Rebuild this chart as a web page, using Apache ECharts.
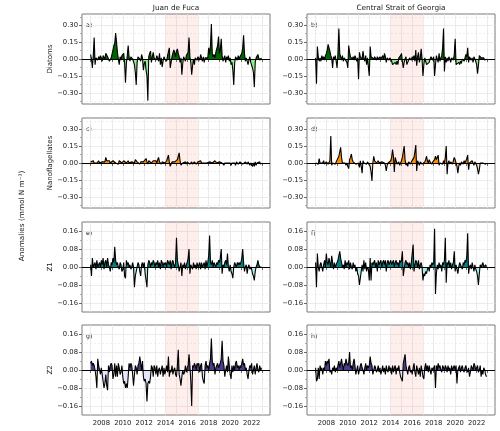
<!DOCTYPE html>
<html>
<head>
<meta charset="utf-8">
<script src="https://cdn.jsdelivr.net/npm/echarts@6/dist/echarts.min.js"></script>
<style>
  html, body { margin: 0; padding: 0; background: #fff; }
  #chart { width: 500px; height: 431px; }
</style>
</head>
<body>
<div id="chart"></div>
<script>
// monthly anomalies, Jan 2007 .. Dec 2022
const startYear = 2007
const labelYears = [2008, 2010, 2012, 2014, 2016, 2018, 2020, 2022]
const tickYears = [2007, 2008, 2009, 2010, 2011, 2012, 2013, 2014, 2015, 2016, 2017, 2018, 2019, 2020, 2021, 2022, 2023]
const heatwave = [2014, 2017]
const sites = ['Juan de Fuca', 'Central Strait of Georgia']
const groups = ['Diatoms', 'Nanoflagellates', 'Z1', 'Z2']
const tags = ['a)', 'b)', 'c)', 'd)', 'e)', 'f)', 'g)', 'h)']
const phytoTicks = [-0.3, -0.15, 0, 0.15, 0.3]
const phytoMinor = [-0.375, -0.225, -0.075, 0.075, 0.225, 0.375]
const zooTicks = [-0.16, -0.08, 0, 0.08, 0.16]
const zooMinor = [-0.12, -0.04, 0.04, 0.12]

const jdfDiatoms = [
  0.04, 0.0, -0.08, 0.03, 0.19, -0.05, 0.01, 0.02, -0.01, 0.02, 0.0, 0.03,
  0.01, -0.02, 0.03, 0.02, 0.0, 0.05, 0.06, 0.02, 0.0, -0.02, -0.03, 0.01,
  0.01, 0.08, 0.12, 0.14, 0.23, 0.15, 0.06, 0.0, -0.05, 0.02, -0.01, 0.03,
  0.02, 0.05, -0.03, -0.21, -0.04, 0.03, 0.12, 0.02, -0.02, 0.02, 0.01, 0.0,
  0.01, -0.05, -0.12, -0.23, -0.03, 0.02, 0.03, 0.0, -0.02, 0.04, 0.01, -0.1,
  -0.04, -0.02, -0.1, -0.15, -0.37, 0.02, 0.05, 0.07, -0.03, 0.02, 0.06, 0.01,
  0.02, -0.01, 0.03, 0.01, -0.02, 0.05, -0.05, 0.01, -0.07, -0.02, 0.02, 0.0,
  0.01, -0.02, 0.03, 0.02, 0.1, -0.08, -0.03, 0.02, 0.03, 0.08, 0.06, 0.02,
  0.07, 0.09, 0.05, 0.02, -0.03, 0.01, -0.14, -0.04, 0.02, 0.01, -0.02, 0.03,
  0.03, 0.06, 0.19, 0.02, -0.03, -0.14, -0.06, 0.0, -0.05, 0.01, 0.02, -0.01,
  0.02, 0.03, -0.01, 0.04, 0.01, -0.02, 0.02, -0.03, 0.01, 0.0, 0.02, 0.01,
  0.1, 0.04, 0.12, 0.31, 0.05, 0.02, 0.04, 0.01, 0.06, 0.05, 0.12, 0.2,
  0.05, 0.08, 0.18, 0.03, -0.02, 0.01, 0.03, -0.03, 0.02, 0.0, 0.03, -0.02,
  0.01, -0.05, -0.03, -0.1, -0.23, -0.04, 0.02, 0.01, -0.01, 0.03, 0.0, 0.02,
  0.02, 0.05, 0.1, 0.21, 0.05, -0.02, 0.01, 0.02, -0.05, -0.01, 0.02, -0.03,
  -0.02, -0.08, -0.12, -0.25, -0.03, 0.01, 0.02, 0.04, 0.01, -0.01, 0.0, 0.01
]
const sogDiatoms = [
  0.01, -0.22, 0.11, 0.02, -0.02, 0.01, -0.02, 0.03, 0.0, 0.02, -0.01, 0.03,
  0.05, 0.08, 0.13, 0.14, 0.07, 0.03, 0.01, -0.08, 0.02, 0.0, 0.03, -0.02,
  -0.08, 0.05, 0.27, 0.05, 0.02, -0.01, 0.03, -0.02, 0.01, 0.02, 0.0, -0.03,
  -0.08, 0.12, 0.06, 0.02, 0.03, 0.0, 0.02, -0.01, 0.03, 0.01, -0.02, 0.01,
  -0.18, 0.06, 0.02, 0.03, 0.0, 0.07, 0.01, -0.02, 0.03, -0.05, 0.01, 0.02,
  -0.15, 0.11, 0.02, 0.01, 0.03, 0.0, 0.02, 0.01, -0.01, 0.02, 0.0, 0.01,
  0.02, 0.0, 0.01, 0.03, 0.0, 0.05, 0.02, -0.03, 0.01, 0.02, -0.01, 0.01,
  0.0, -0.02, -0.05, -0.04, -0.06, -0.03, -0.05, -0.02, -0.05, 0.01, 0.02, 0.03,
  0.05, -0.02, -0.08, -0.03, 0.0, 0.02, -0.05, -0.04, -0.05, 0.01, 0.02, -0.01,
  0.02, 0.0, 0.03, -0.02, 0.08, -0.06, 0.02, 0.06, -0.03, 0.01, 0.09, 0.0,
  -0.15, -0.05, 0.01, -0.02, -0.05, -0.04, -0.05, -0.03, 0.0, 0.02, 0.01, -0.01,
  0.02, -0.15, -0.05, 0.03, 0.02, -0.03, 0.05, -0.02, 0.01, 0.03, 0.1, 0.27,
  -0.11, 0.02, -0.03, 0.01, -0.02, 0.02, 0.0, -0.03, 0.01, 0.02, -0.01, 0.04,
  0.18, -0.05, -0.04, -0.05, -0.03, -0.05, -0.02, -0.04, 0.0, 0.01, -0.02, 0.01,
  0.04, 0.02, 0.1, -0.03, 0.02, 0.03, -0.01, 0.01, -0.03, 0.02, 0.01, -0.02,
  -0.05, -0.13, -0.06, 0.03, 0.02, 0.01, 0.02, 0.0, 0.01, -0.01, 0.0, 0.0
]
const jdfNano = [
  0.01, 0.02, 0.01, 0.02, 0.0, 0.01, 0.01, 0.0, 0.01, 0.02, 0.0, 0.01,
  0.0, 0.01, 0.02, 0.0, 0.01, 0.05, 0.02, 0.01, 0.01, 0.02, 0.0, 0.01,
  0.01, 0.02, 0.02, 0.01, 0.0, 0.01, 0.0, -0.01, 0.02, 0.01, 0.02, 0.0,
  0.01, 0.02, 0.03, 0.01, 0.0, 0.01, 0.02, 0.0, 0.01, -0.01, 0.01, 0.0,
  0.01, 0.0, 0.03, 0.04, 0.01, 0.0, 0.02, -0.01, 0.01, 0.0, 0.02, 0.01,
  0.01, 0.02, 0.04, 0.01, -0.01, 0.02, 0.03, 0.01, 0.0, 0.01, 0.02, 0.01,
  0.01, 0.02, 0.0, 0.03, 0.05, 0.01, 0.0, -0.01, 0.01, 0.0, 0.01, 0.0,
  0.01, 0.02, 0.03, 0.07, 0.01, -0.03, -0.01, 0.01, 0.02, 0.0, 0.01, 0.01,
  0.02, 0.03, 0.06, 0.09, 0.02, -0.02, -0.01, 0.0, -0.01, 0.0, 0.01, -0.01,
  0.01, 0.0, 0.01, -0.01, 0.0, 0.01, -0.01, 0.0, 0.01, 0.0, -0.01, 0.0,
  0.01, 0.0, 0.01, 0.02, 0.0, 0.01, -0.01, 0.0, 0.01, 0.0, 0.0, -0.01,
  0.0, 0.01, 0.02, 0.01, 0.0, -0.01, 0.0, 0.02, 0.01, 0.0, -0.01, 0.0,
  0.01, 0.0, 0.02, 0.0, -0.01, -0.02, 0.0, 0.01, -0.01, 0.0, 0.01, -0.01,
  0.0, -0.02, 0.0, 0.01, -0.01, 0.0, -0.02, 0.01, 0.0, -0.01, 0.0, 0.01,
  0.0, 0.01, -0.01, 0.0, -0.02, 0.01, 0.0, -0.01, 0.01, 0.0, -0.02, 0.0,
  -0.01, -0.03, 0.0, -0.03, 0.01, -0.02, 0.0, -0.01, 0.0, 0.01, -0.01, 0.0
]
const sogNano = [
  0.0, -0.01, 0.01, -0.01, 0.04, 0.0, -0.01, 0.01, 0.0, 0.02, -0.01, 0.0,
  0.01, 0.0, -0.01, 0.0, 0.02, 0.24, -0.02, 0.0, 0.01, 0.0, -0.01, 0.01,
  0.0, 0.02, 0.06, 0.1, 0.14, 0.05, 0.0, -0.01, 0.01, 0.0, -0.02, 0.0,
  -0.03, -0.05, 0.03, 0.05, 0.08, 0.03, 0.01, 0.0, 0.01, -0.01, 0.0, -0.02,
  0.0, -0.04, 0.02, -0.03, -0.09, 0.02, 0.0, 0.01, 0.0, -0.01, 0.01, 0.0,
  0.01, -0.03, -0.08, -0.16, 0.0, 0.06, 0.02, 0.01, 0.0, -0.01, 0.02, 0.0,
  0.01, 0.0, 0.01, 0.0, 0.02, 0.0, -0.02, -0.07, -0.02, 0.0, 0.01, 0.0,
  0.02, 0.05, 0.12, 0.06, -0.08, 0.05, 0.02, -0.01, 0.0, 0.01, -0.02, 0.0,
  0.02, 0.05, 0.1, 0.15, 0.03, -0.02, 0.0, -0.03, 0.01, 0.0, -0.01, 0.01,
  0.0, 0.01, 0.05, 0.1, 0.16, -0.07, 0.02, 0.01, -0.02, 0.01, 0.0, -0.01,
  0.0, -0.02, 0.01, 0.03, 0.06, 0.02, 0.0, 0.03, 0.01, 0.0, -0.01, 0.01,
  0.02, 0.03, 0.06, 0.03, 0.05, 0.07, -0.02, 0.0, 0.01, 0.0, -0.01, 0.02,
  0.0, 0.05, 0.15, -0.1, 0.0, 0.02, -0.01, 0.01, 0.0, -0.01, 0.02, 0.05,
  0.03, 0.0, -0.03, -0.09, -0.03, 0.0, -0.02, 0.01, 0.0, -0.01, 0.02, 0.0,
  0.02, 0.04, 0.07, -0.06, 0.0, 0.01, -0.01, 0.02, 0.0, -0.02, 0.01, 0.0,
  -0.02, -0.05, -0.1, -0.06, 0.0, 0.01, -0.01, 0.0, 0.01, 0.0, -0.01, 0.0
]
const jdfZ1 = [
  0.01, -0.04, 0.04, 0.0, 0.01, 0.02, -0.01, 0.03, 0.0, 0.01, 0.02, 0.0,
  0.03, 0.01, 0.04, -0.01, 0.02, 0.03, 0.0, 0.04, 0.01, 0.0, -0.02, 0.02,
  0.01, 0.04, 0.02, 0.09, 0.03, 0.01, 0.02, 0.0, -0.01, 0.02, 0.01, -0.02,
  -0.01, 0.02, -0.04, -0.05, 0.03, 0.01, 0.02, 0.0, 0.01, -0.01, 0.0, 0.02,
  0.0, -0.09, -0.04, -0.02, 0.0, 0.02, 0.01, -0.02, -0.04, 0.01, 0.02, 0.0,
  0.02, -0.03, -0.06, -0.09, 0.01, 0.03, 0.02, 0.0, 0.02, 0.01, 0.03, 0.02,
  0.0, 0.02, 0.01, 0.03, 0.0, 0.02, -0.01, 0.03, 0.02, 0.0, 0.02, 0.01,
  0.02, 0.0, 0.03, 0.02, 0.01, 0.03, -0.01, 0.02, 0.03, 0.01, 0.0, 0.02,
  0.13, 0.03, 0.01, -0.02, 0.0, 0.02, -0.04, 0.01, 0.0, 0.02, -0.01, 0.01,
  0.02, 0.04, 0.08, -0.03, 0.01, 0.0, -0.01, 0.02, 0.0, 0.01, -0.01, 0.02,
  0.0, 0.01, 0.02, -0.01, 0.02, 0.0, 0.01, 0.02, -0.01, 0.03, 0.0, 0.02,
  0.05, 0.14, 0.02, 0.01, 0.03, 0.0, 0.02, 0.01, 0.0, 0.02, 0.01, 0.03,
  0.02, 0.04, 0.08, -0.03, 0.01, 0.0, 0.02, 0.03, 0.01, 0.06, 0.0, -0.02,
  0.01, -0.02, -0.03, -0.05, 0.0, 0.02, 0.01, 0.0, 0.02, 0.01, 0.02, 0.01,
  0.02, 0.04, 0.08, 0.02, -0.02, 0.0, 0.01, -0.03, 0.0, 0.01, -0.01, 0.0,
  -0.01, -0.03, -0.04, -0.06, -0.02, 0.0, 0.01, 0.03, 0.01, 0.0, 0.0, 0.0
]
const sogZ1 = [
  0.02, -0.09, 0.06, 0.0, -0.02, 0.01, 0.02, 0.0, -0.02, 0.01, 0.03, 0.0,
  0.06, 0.02, 0.01, 0.04, 0.02, 0.0, 0.05, 0.02, -0.01, 0.02, 0.0, 0.01,
  0.02, 0.03, 0.05, 0.07, 0.04, 0.02, 0.0, 0.01, -0.01, 0.03, 0.0, 0.02,
  0.01, 0.03, -0.01, 0.02, 0.0, -0.01, 0.02, 0.0, 0.01, -0.02, 0.0, -0.03,
  -0.04, -0.08, -0.05, -0.02, 0.01, -0.02, 0.03, -0.01, 0.02, -0.02, 0.0, -0.01,
  -0.06, 0.04, -0.06, 0.02, 0.01, 0.02, 0.03, 0.0, 0.02, -0.02, 0.03, 0.01,
  0.02, 0.03, 0.0, 0.02, 0.03, 0.01, 0.03, -0.02, 0.02, 0.03, 0.01, 0.02,
  0.03, 0.01, 0.02, 0.03, 0.0, 0.02, 0.03, 0.01, 0.02, 0.0, 0.03, 0.02,
  0.03, 0.07, -0.04, -0.01, 0.02, 0.03, 0.01, 0.02, 0.0, 0.02, -0.01, 0.02,
  0.02, 0.1, -0.02, 0.01, 0.03, 0.02, 0.0, 0.03, -0.01, 0.01, 0.02, 0.0,
  -0.06, -0.03, -0.04, -0.02, -0.03, -0.01, 0.0, -0.02, 0.01, 0.0, 0.02, 0.01,
  0.02, 0.17, -0.12, -0.03, 0.01, -0.01, 0.02, 0.0, 0.01, -0.02, 0.02, 0.01,
  0.03, 0.13, -0.07, 0.02, 0.01, 0.03, 0.0, 0.02, -0.01, 0.01, 0.02, 0.07,
  -0.02, 0.01, -0.01, -0.03, 0.0, 0.02, 0.01, 0.0, -0.01, 0.02, 0.01, 0.03,
  0.02, 0.05, 0.15, -0.03, 0.0, 0.01, -0.01, 0.02, 0.0, -0.02, 0.01, -0.01,
  -0.02, -0.04, -0.08, -0.03, 0.01, 0.0, 0.01, 0.02, 0.0, 0.0, 0.01, 0.0
]
const jdfZ2 = [
  0.03, 0.04, 0.02, 0.03, 0.02, 0.0, -0.03, -0.08, 0.05, 0.02, 0.0, -0.02,
  0.01, -0.02, -0.05, -0.08, -0.06, -0.02, -0.07, -0.09, 0.02, -0.01, 0.02, 0.03,
  0.02, -0.04, -0.02, 0.03, -0.03, 0.02, -0.03, 0.03, 0.01, -0.02, -0.01, 0.02,
  -0.03, -0.06, -0.05, -0.08, -0.06, -0.08, -0.03, 0.03, 0.01, 0.03, 0.02, -0.02,
  -0.07, -0.02, 0.02, 0.01, -0.02, 0.02, 0.03, 0.06, 0.03, 0.0, 0.04, -0.03,
  -0.05, -0.04, -0.06, -0.14, -0.06, -0.05, -0.06, -0.03, 0.02, 0.01, -0.03, 0.02,
  0.01, -0.02, 0.02, -0.03, 0.0, 0.01, -0.02, 0.0, 0.02, -0.03, 0.01, -0.02,
  0.0, 0.02, -0.01, 0.06, -0.03, 0.0, -0.01, 0.02, -0.02, 0.0, 0.01, -0.02,
  -0.03, 0.02, 0.09, -0.02, -0.04, -0.07, -0.03, 0.0, -0.02, -0.01, 0.02, -0.01,
  0.01, 0.02, 0.07, 0.02, -0.05, -0.16, 0.02, 0.01, 0.03, 0.02, 0.0, 0.03,
  0.02, 0.03, -0.01, 0.02, 0.03, -0.03, -0.05, -0.06, 0.02, 0.04, 0.01, 0.02,
  0.0, 0.03, 0.05, 0.14, 0.04, 0.02, 0.03, -0.02, 0.01, 0.02, 0.03, 0.01,
  0.02, 0.03, 0.05, 0.13, 0.04, 0.02, -0.03, 0.0, 0.02, -0.01, 0.06, 0.02,
  -0.02, -0.04, 0.02, -0.01, 0.02, 0.0, 0.03, 0.04, 0.01, 0.02, 0.0, 0.02,
  0.01, 0.03, 0.05, 0.02, 0.03, 0.0, 0.01, -0.02, -0.04, 0.0, 0.02, 0.01,
  0.03, -0.02, 0.0, 0.02, -0.02, 0.01, 0.03, 0.0, -0.01, 0.02, 0.0, 0.01
]
const sogZ2 = [
  0.01, -0.05, -0.04, 0.01, -0.04, 0.02, 0.0, 0.01, -0.02, 0.01, 0.0, 0.04,
  0.02, 0.04, 0.03, 0.05, -0.01, 0.0, -0.02, 0.01, 0.0, 0.02, -0.01, 0.01,
  0.0, 0.02, 0.04, 0.01, 0.03, 0.05, 0.02, 0.0, 0.03, 0.02, 0.05, 0.03,
  0.02, 0.03, 0.08, 0.01, 0.02, 0.0, 0.03, 0.05, 0.02, -0.02, 0.0, 0.02,
  -0.02, 0.0, 0.02, 0.03, 0.01, 0.0, -0.02, 0.01, 0.03, 0.0, 0.02, 0.01,
  0.02, 0.06, 0.03, 0.02, -0.02, 0.0, 0.02, 0.01, -0.01, 0.0, 0.02, -0.01,
  0.01, -0.02, 0.0, 0.02, -0.01, 0.01, -0.02, 0.02, 0.0, -0.01, 0.02, 0.0,
  0.01, -0.02, 0.02, -0.01, 0.01, 0.02, -0.02, 0.01, 0.0, 0.02, -0.01, -0.03,
  -0.04, -0.05, 0.03, 0.05, 0.07, 0.02, 0.0, -0.02, 0.01, 0.02, -0.01, 0.0,
  -0.02, 0.01, 0.03, -0.01, -0.03, 0.02, 0.0, -0.02, 0.01, -0.03, 0.02, 0.0,
  -0.03, -0.04, 0.01, 0.03, 0.0, 0.02, -0.01, 0.02, 0.0, -0.02, 0.01, 0.0,
  0.01, 0.02, -0.08, 0.02, 0.0, 0.03, 0.01, 0.02, 0.0, -0.01, 0.02, 0.01,
  0.0, 0.02, 0.01, -0.01, 0.02, 0.0, 0.01, -0.02, 0.02, 0.0, 0.01, 0.02,
  0.0, 0.02, -0.06, 0.0, 0.01, 0.02, -0.01, 0.01, 0.02, 0.0, -0.01, 0.01,
  0.02, 0.0, -0.01, 0.01, -0.03, -0.01, 0.02, 0.01, 0.0, 0.03, 0.02, 0.0,
  0.01, 0.02, -0.01, 0.0, 0.02, -0.03, 0.0, -0.02, 0.01, 0.0, -0.02, -0.03
]

// row-major panel order: a b / c d / e f / g h
const panels = [jdfDiatoms, sogDiatoms, jdfNano, sogNano, jdfZ1, sogZ1, jdfZ2, sogZ2]
const posColors = ['#006400', '#ff8c00', '#008080', '#483d8b']
const negColors = ['#90ee90', '#f5deb3', '#afeeee', '#e6e6fa']

const font = 'DejaVu Sans'
const fmt = (v) => (v < 0 ? '\u2212' : '') + Math.abs(v).toFixed(2)

const colLeft = [82, 307]
const rowTop = [14, 118, 222, 325]
const plotW = 188
const plotH = 90

const chart = echarts.init(document.getElementById('chart'), null, { renderer: 'canvas' })

let grid = [], xAxis = [], yAxis = [], series = [], graphic = []

panels.forEach((vals, i) => {
    const row = Math.floor(i / 2)
    const col = i % 2
    const phyto = row < 2
    const top = rowTop[row]
    grid.push({
        left: colLeft[col], top: top, width: plotW, height: plotH,
        show: true, borderColor: '#7a7a7a', borderWidth: 1, backgroundColor: '#fff'
    })
    xAxis.push({
        type: 'value', gridIndex: i, min: 2006.2, max: 2023.71,
        axisLine: { show: false },
        axisTick: { show: true, customValues: tickYears, length: 3, lineStyle: { color: '#444', width: 0.8 } },
        axisLabel: {
            show: row === 3, customValues: labelYears, formatter: (v) => String(v),
            fontFamily: font, fontSize: 6.8, color: '#222', margin: 5
        },
        splitLine: { show: true, lineStyle: { color: '#e6e6e6', width: 0.8 } }
    })
    const ticks = phyto ? phytoTicks : zooTicks
    const lim = phyto ? 0.4 : 0.2
    yAxis.push({
        type: 'value', gridIndex: i, position: 'left', min: -lim, max: lim,
        name: col === 0 ? groups[row] : '', nameLocation: 'middle', nameGap: 28,
        nameTextStyle: { fontFamily: font, fontSize: 7, color: '#222' },
        axisLine: { show: false },
        axisTick: { show: true, customValues: ticks, length: 3, lineStyle: { color: '#444', width: 0.8 } },
        axisLabel: { customValues: ticks, formatter: fmt, fontFamily: font, fontSize: 6.8, color: '#222', margin: 4 },
        splitLine: { show: true, lineStyle: { color: '#e6e6e6', width: 0.8 } }
    })
    yAxis.push({
        type: 'value', gridIndex: i, position: 'left', min: -lim, max: lim,
        axisLine: { show: false },
        axisTick: { show: true, customValues: phyto ? phytoMinor : zooMinor, length: 1.8, lineStyle: { color: '#666', width: 0.6 } },
        axisLabel: { show: false },
        splitLine: { show: true, lineStyle: { color: '#ececec', width: 0.7, type: [2, 2] } }
    })
    const pts = vals.map((v, k) => [startYear + k / 12, v])
    // dark fill above zero, light fill below (zero sits mid-panel)
    const split = new echarts.graphic.LinearGradient(0, top, 0, top + plotH, [
        { offset: 0, color: posColors[row] }, { offset: 0.5, color: posColors[row] },
        { offset: 0.5, color: negColors[row] }, { offset: 1, color: negColors[row] }
    ], true)
    // shaded 2014-2016 window
    series.push({
        type: 'line', xAxisIndex: i, yAxisIndex: 2 * i, data: [], z: 1, silent: true,
        markArea: {
            silent: true,
            itemStyle: { color: 'rgba(250, 128, 114, 0.13)' },
            data: [[{ xAxis: heatwave[0] }, { xAxis: heatwave[1] }]]
        }
    })
    series.push({
        type: 'line', xAxisIndex: i, yAxisIndex: 2 * i, data: pts, z: 2, silent: true,
        showSymbol: false, lineStyle: { width: 0 }, areaStyle: { opacity: 1, color: split }
    })
    series.push({
        type: 'line', xAxisIndex: i, yAxisIndex: 2 * i, data: pts, z: 3, silent: true,
        showSymbol: false, lineStyle: { color: '#000', width: 1.1 },
        markLine: {
            silent: true, symbol: ['none', 'none'], label: { show: false },
            lineStyle: { color: '#000', width: 1.2, type: 'solid' },
            data: [{ yAxis: 0 }]
        }
    })
    graphic.push({
        type: 'text', x: colLeft[col] + 4, y: top + 11,
        style: { text: tags[i], font: '6.2px "DejaVu Sans"', fill: '#222', verticalAlign: 'middle' }
    })
})

sites.forEach((s, c) => {
    graphic.push({
        type: 'text', x: colLeft[c] + plotW / 2, y: 8,
        style: { text: s, font: '7.3px "DejaVu Sans"', fill: '#222', align: 'center', verticalAlign: 'middle' }
    })
})
graphic.push({
    type: 'text', x: 22, y: 216, rotation: Math.PI / 2,
    style: { text: 'Anomalies (mmol N m\u207B\u00B3)', font: '7.3px "DejaVu Sans"', fill: '#222', align: 'center', verticalAlign: 'middle' }
})

chart.setOption({
    animation: false,
    backgroundColor: '#fff',
    grid, xAxis, yAxis, series, graphic
})
</script>
</body>
</html>
